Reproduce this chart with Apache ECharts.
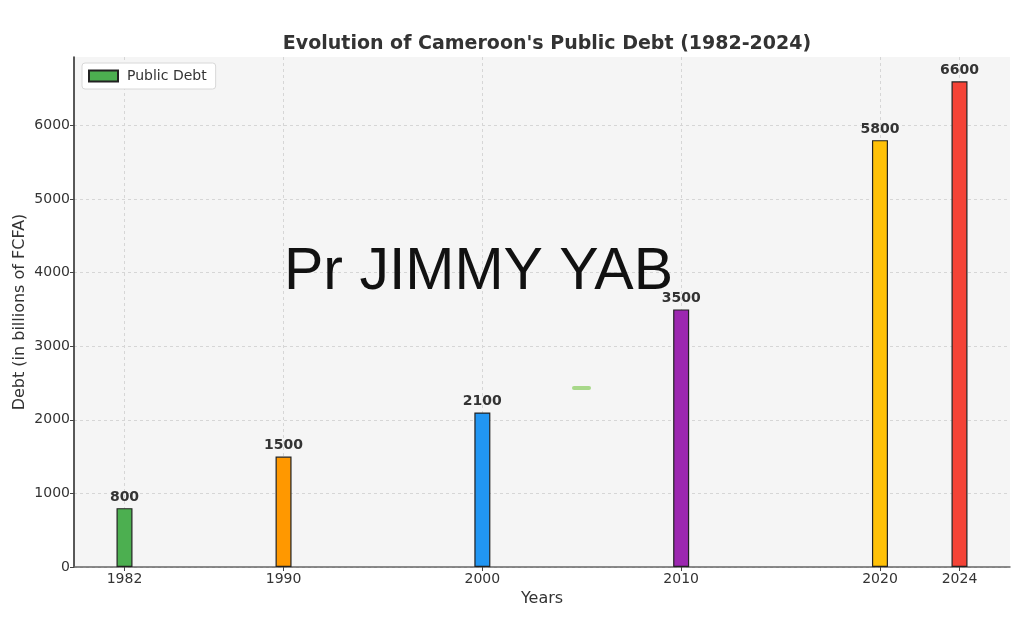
<!DOCTYPE html>
<html>
<head>
<meta charset="utf-8">
<script src="https://cdn.jsdelivr.net/npm/echarts@6/dist/echarts.min.js"></script>
<style>
  html, body { margin: 0; padding: 0; background: #fff; }
  #chart { width: 1024px; height: 631px; }
</style>
</head>
<body>
<div id="chart"></div>
<script>
// data
const years = [1982, 1990, 2000, 2010, 2020, 2024]
const debt = [800, 1500, 2100, 3500, 5800, 6600]
const barColors = ['#4caf50', '#ff9800', '#2196f3', '#9c27b0', '#ffc107', '#f44336']
const yTicks = [0, 1000, 2000, 3000, 4000, 5000, 6000]

const chart = echarts.init(document.getElementById('chart'))

const gridLine = { show: true, lineStyle: { color: '#d6d6d6', type: [3, 3], width: 1 } }
const plain = (v) => String(v)

const option = {
  animation: false,
  backgroundColor: '#ffffff',
  title: {
    text: "Evolution of Cameroon's Public Debt (1982-2024)",
    left: 542,
    top: 30,
    textAlign: 'center',
    textStyle: { fontFamily: 'DejaVu Sans', fontSize: 19, fontWeight: 'bold', color: '#333' }
  },
  legend: {
    left: 82,
    top: 63,
    padding: [6, 9, 6, 6],
    backgroundColor: '#fff',
    borderColor: '#d8d8d8',
    borderWidth: 1,
    borderRadius: 3,
    itemWidth: 29,
    itemHeight: 11,
    itemGap: 8,
    icon: 'rect',
    textStyle: { fontFamily: 'DejaVu Sans', fontSize: 14, color: '#333', padding: [0, 0, 0, 4] },
    data: ['Public Debt']
  },
  grid: {
    left: 74, right: 14, top: 57, bottom: 64,
    outerBoundsMode: 'none',
    containLabel: false,
    show: true, backgroundColor: '#f5f5f5', borderWidth: 0
  },
  xAxis: {
    type: 'value',
    min: 1979.46,
    max: 2026.54,
    name: 'Years',
    nameLocation: 'middle',
    nameGap: 24,
    nameMoveOverlap: false,
    nameTextStyle: { fontFamily: 'DejaVu Sans', fontSize: 16, color: '#333' },
    axisLine: { show: true, lineStyle: { color: '#666', width: 1.5 } },
    axisTick: { show: true, customValues: years, length: 4, lineStyle: { color: '#444' } },
    axisLabel: {
      customValues: years,
      formatter: plain,
      fontFamily: 'DejaVu Sans', fontSize: 14, color: '#333', margin: 5
    },
    splitLine: gridLine
  },
  yAxis: {
    type: 'value',
    min: 0,
    max: 6930,
    name: 'Debt (in billions of FCFA)',
    nameLocation: 'middle',
    nameGap: 46,
    nameMoveOverlap: false,
    nameTextStyle: { fontFamily: 'DejaVu Sans', fontSize: 16, color: '#333' },
    axisLine: { show: true, lineStyle: { color: '#222', width: 1.5 } },
    axisTick: { show: true, customValues: yTicks, length: 4, lineStyle: { color: '#444' } },
    axisLabel: {
      customValues: yTicks,
      formatter: plain,
      fontFamily: 'DejaVu Sans', fontSize: 14, color: '#333', margin: 4
    },
    splitLine: gridLine
  },
  series: [
    {
      name: 'Public Debt',
      type: 'bar',
      barWidth: 16,
      itemStyle: { color: barColors[0], borderColor: '#222', borderWidth: 1.2 },
      label: {
        show: true,
        position: 'top',
        distance: 4,
        fontFamily: 'DejaVu Sans',
        fontSize: 14,
        fontWeight: 'bold',
        color: '#333'
      },
      data: years.map((y, i) => ({
        value: [y, debt[i]],
        itemStyle: { color: barColors[i] }
      }))
    }
  ],
  graphic: [
    {
      type: 'text',
      left: 284,
      top: 243,
      z: 100,
      style: {
        text: 'Pr JIMMY YAB',
        font: '59px "Liberation Sans", Arial, sans-serif',
        fill: '#111'
      }
    },
    {
      type: 'rect',
      z: 100,
      shape: { x: 572, y: 386, width: 19, height: 4, r: 2 },
      style: { fill: '#a8d88a' }
    }
  ]
}

chart.setOption(option)
</script>
</body>
</html>
